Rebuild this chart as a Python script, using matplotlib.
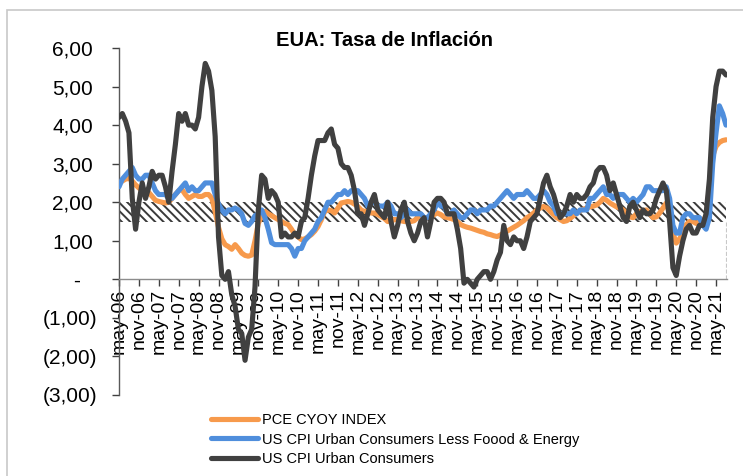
import matplotlib
matplotlib.use('Agg')
import matplotlib.pyplot as plt
import matplotlib.transforms as mtransforms
from matplotlib.patches import Rectangle

# Datos mensuales, may-06 a ago-21 (variación anual, %)
pce = [
    2.50, 2.55, 2.60, 2.62, 2.55, 2.45, 2.37, 2.30,                          # 2006 may-dic
    2.30, 2.25, 2.15, 2.05, 2.02, 2.00, 1.98, 2.00, 2.10, 2.20, 2.30, 2.33,  # 2007
    2.20, 2.10, 2.15, 2.20, 2.15, 2.15, 2.20, 2.20, 2.10, 1.75, 1.35, 1.05,  # 2008
    0.90, 0.85, 0.78, 0.90, 0.80, 0.68, 0.62, 0.60, 0.63, 1.00, 1.45, 1.65,  # 2009
    1.76, 1.70, 1.65, 1.60, 1.55, 1.50, 1.45, 1.42, 1.30, 1.16, 1.10, 1.03,  # 2010
    1.05, 1.10, 1.16, 1.25, 1.37, 1.55, 1.76, 1.80, 1.78, 1.72, 1.85, 1.98,  # 2011
    2.00, 2.02, 2.00, 1.95, 1.89, 1.80, 1.76, 1.75, 1.72, 1.72, 1.68, 1.63,  # 2012
    1.58, 1.50, 1.50, 1.55, 1.55, 1.52, 1.50, 1.50, 1.50, 1.52, 1.60, 1.60,  # 2013
    1.58, 1.60, 1.62, 1.68, 1.72, 1.68, 1.62, 1.60, 1.58, 1.55, 1.50, 1.42,  # 2014
    1.38, 1.35, 1.33, 1.30, 1.27, 1.24, 1.22, 1.18, 1.16, 1.13, 1.11, 1.15,  # 2015
    1.20, 1.25, 1.30, 1.35, 1.40, 1.46, 1.52, 1.60, 1.65, 1.72, 1.80, 1.85,  # 2016
    1.89, 1.85, 1.76, 1.68, 1.60, 1.55, 1.50, 1.52, 1.58, 1.65, 1.72, 1.78,  # 2017
    1.82, 1.85, 1.88, 1.90, 1.93, 2.00, 2.10, 2.05, 1.98, 1.93, 1.88, 1.85,  # 2018
    1.80, 1.72, 1.62, 1.60, 1.70, 1.76, 1.78, 1.80, 1.70, 1.60, 1.62, 1.72,  # 2019
    1.85, 1.98, 1.70, 1.20, 0.94, 1.05, 1.20, 1.42, 1.50, 1.50, 1.45, 1.50,  # 2020
    1.55, 1.60, 2.40, 3.20, 3.45, 3.55, 3.60, 3.62,                          # 2021 ene-ago
]

core_cpi = [
    2.40, 2.60, 2.70, 2.80, 2.90, 2.70, 2.60, 2.60,
    2.70, 2.70, 2.50, 2.30, 2.20, 2.20, 2.20, 2.10, 2.10, 2.20, 2.30, 2.40,
    2.50, 2.30, 2.40, 2.30, 2.30, 2.40, 2.50, 2.50, 2.50, 2.20, 1.95, 1.80,
    1.70, 1.80, 1.80, 1.85, 1.80, 1.70, 1.45, 1.40, 1.50, 1.65, 1.70, 1.80,
    1.60, 1.30, 0.95, 0.90, 0.90, 0.90, 0.90, 0.90, 0.80, 0.60, 0.80, 0.80,
    1.00, 1.10, 1.20, 1.30, 1.50, 1.60, 1.80, 2.00, 2.00, 2.10, 2.20, 2.20,
    2.30, 2.20, 2.30, 2.30, 2.30, 2.20, 2.10, 1.90, 2.00, 2.00, 1.90, 1.90,
    1.90, 2.00, 1.90, 1.70, 1.70, 1.60, 1.70, 1.80, 1.70, 1.70, 1.70, 1.70,
    1.60, 1.60, 1.70, 1.80, 2.00, 1.90, 1.90, 1.70, 1.70, 1.80, 1.70, 1.60,
    1.60, 1.70, 1.80, 1.80, 1.70, 1.80, 1.80, 1.80, 1.90, 1.90, 2.00, 2.10,
    2.20, 2.30, 2.20, 2.10, 2.20, 2.20, 2.20, 2.30, 2.20, 2.10, 2.10, 2.20,
    2.30, 2.20, 2.00, 1.90, 1.70, 1.70, 1.70, 1.70, 1.70, 1.80, 1.70, 1.80,
    1.80, 1.80, 2.10, 2.10, 2.20, 2.30, 2.40, 2.20, 2.20, 2.10, 2.20, 2.20,
    2.20, 2.10, 2.00, 2.10, 2.00, 2.10, 2.20, 2.40, 2.40, 2.30, 2.30, 2.30,
    2.30, 2.40, 2.10, 1.40, 1.20, 1.20, 1.60, 1.70, 1.70, 1.60, 1.60, 1.60,
    1.40, 1.30, 1.60, 3.00, 3.80, 4.50, 4.30, 4.00,
]

cpi = [
    4.20, 4.30, 4.10, 3.80, 2.10, 1.30, 2.00, 2.50,
    2.10, 2.40, 2.80, 2.60, 2.70, 2.70, 2.40, 2.00, 2.80, 3.50, 4.30, 4.10,
    4.30, 4.00, 4.00, 3.90, 4.20, 5.00, 5.60, 5.40, 4.90, 3.70, 1.10, 0.10,
    0.00, 0.20, -0.40, -0.70, -1.30, -1.40, -2.10, -1.50, -1.30, -0.20, 1.80, 2.70,
    2.60, 2.10, 2.30, 2.20, 2.00, 1.10, 1.20, 1.10, 1.10, 1.20, 1.10, 1.50,
    1.60, 2.10, 2.70, 3.20, 3.60, 3.60, 3.60, 3.80, 3.90, 3.50, 3.40, 3.00,
    2.90, 2.90, 2.70, 2.30, 1.70, 1.70, 1.40, 1.70, 2.00, 2.20, 1.80, 1.70,
    1.60, 2.00, 1.50, 1.10, 1.40, 1.80, 2.00, 1.50, 1.20, 1.00, 1.20, 1.50,
    1.60, 1.10, 1.50, 2.00, 2.10, 2.10, 2.00, 1.70, 1.70, 1.70, 1.30, 0.80,
    -0.10, 0.00, -0.10, -0.20, 0.00, 0.10, 0.20, 0.20, 0.00, 0.20, 0.50, 0.70,
    1.40, 1.00, 0.90, 1.10, 1.00, 1.00, 0.80, 1.10, 1.50, 1.60, 1.70, 2.10,
    2.50, 2.70, 2.40, 2.20, 1.90, 1.60, 1.70, 1.90, 2.20, 2.00, 2.20, 2.10,
    2.10, 2.20, 2.40, 2.50, 2.80, 2.90, 2.90, 2.70, 2.30, 2.50, 2.20, 1.90,
    1.60, 1.50, 1.90, 2.00, 1.80, 1.60, 1.80, 1.70, 1.70, 1.80, 2.10, 2.30,
    2.50, 2.30, 1.50, 0.30, 0.10, 0.60, 1.00, 1.30, 1.40, 1.20, 1.20, 1.40,
    1.40, 1.70, 2.60, 4.20, 5.00, 5.40, 5.40, 5.30,
]

tick_labels = [
    'may-06', 'nov-06', 'may-07', 'nov-07', 'may-08', 'nov-08', 'may-09', 'nov-09',
    'may-10', 'nov-10', 'may-11', 'nov-11', 'may-12', 'nov-12', 'may-13', 'nov-13',
    'may-14', 'nov-14', 'may-15', 'nov-15', 'may-16', 'nov-16', 'may-17', 'nov-17',
    'may-18', 'nov-18', 'may-19', 'nov-19', 'may-20', 'nov-20', 'may-21',
]

# banda meta (1,5 - 2,0)
band_low = 1.5
band_high = 2.0

series_names = [
    'PCE CYOY INDEX',
    'US CPI Urban Consumers Less Foood & Energy',
    'US CPI Urban Consumers',
]

COL_PCE = '#F79A4C'
COL_CORE = '#4F8EDC'
COL_CPI = '#404040'

plt.rcParams['font.family'] = ['Liberation Sans', 'DejaVu Sans']
plt.rcParams['hatch.linewidth'] = 1.4
plt.rcParams['hatch.color'] = '#3a3a3a'

W, H = 743, 476
fig = plt.figure(figsize=(W / 100, H / 100), dpi=100)

# marco gris del gráfico
fig.patches.append(Rectangle((7 / W, -0.1), 1.2, 1.1 - 10 / H, transform=fig.transFigure,
                             fill=False, edgecolor='#c8c8c8', linewidth=1.2))

n = len(cpi)
x = list(range(n))
left_px, right_px = 119, 727
ax = fig.add_axes([left_px / W, 1 - 395 / H, (right_px - left_px) / W, (395 - 48) / H])

ax.fill_between([0, n - 1], band_low, band_high, facecolor='white', hatch='\\\\\\\\',
                linewidth=0, zorder=1)
ax.plot([n - 1, n - 1], [0, band_low], color='#c8c8c8', lw=0.8, ls='--', zorder=1)

ax.plot(x, pce, color=COL_PCE, lw=3.7, label=series_names[0], zorder=3,
        solid_joinstyle='round', solid_capstyle='round')
ax.plot(x, core_cpi, color=COL_CORE, lw=3.7, label=series_names[1], zorder=4,
        solid_joinstyle='round', solid_capstyle='round')
ax.plot(x, cpi, color=COL_CPI, lw=3.7, label=series_names[2], zorder=5,
        solid_joinstyle='round', solid_capstyle='round')

ax.set_xlim(0, n - 1 + 0.3)
ax.set_ylim(-3, 6)

ax.spines['top'].set_visible(False)
ax.spines['right'].set_visible(False)
ax.spines['bottom'].set_position(('data', 0))
ax.spines['bottom'].set_color('#8c8c8c')
ax.spines['bottom'].set_linewidth(1.0)
ax.spines['left'].set_color('#595959')
ax.spines['left'].set_linewidth(1.0)

ax.set_xticks(list(range(0, n, 6)))
ax.set_xticklabels(tick_labels, rotation=90, fontsize=14, va='top', ha='center')
ax.tick_params(axis='x', direction='out', length=5, width=1, color='#404040', pad=2)

yt = list(range(-3, 7))
ax.set_yticks(yt)


def fmt(v):
    if v == 0:
        return '-'
    if v < 0:
        return '(' + f'{abs(v):.2f}'.replace('.', ',') + ')'
    return f'{v:.2f}'.replace('.', ',')


ax.set_yticklabels([fmt(v) for v in yt], fontsize=15)
ax.tick_params(axis='y', direction='out', length=5, width=1, color='#404040', pad=13.7)
for v, lab in zip(yt, ax.get_yticklabels()):
    if v < 0:
        dx = 4
    elif v == 0:
        dx = -13
    else:
        dx = 0
    lab.set_transform(lab.get_transform() +
                      mtransforms.ScaledTranslation(dx / 100, 0, fig.dpi_scale_trans))

fig.text(384 / W, 1 - 40 / H, 'EUA: Tasa de Inflación', ha='center', va='center',
         fontsize=14.5, fontweight='bold')

fig.legend(loc='upper left', bbox_to_anchor=(211 / W, 1 - 413 / H), frameon=False,
           fontsize=10.5, handlelength=3.2, handletextpad=0.3, labelspacing=0.38,
           borderpad=0, borderaxespad=0)

fig.savefig('out.png', dpi=100)
